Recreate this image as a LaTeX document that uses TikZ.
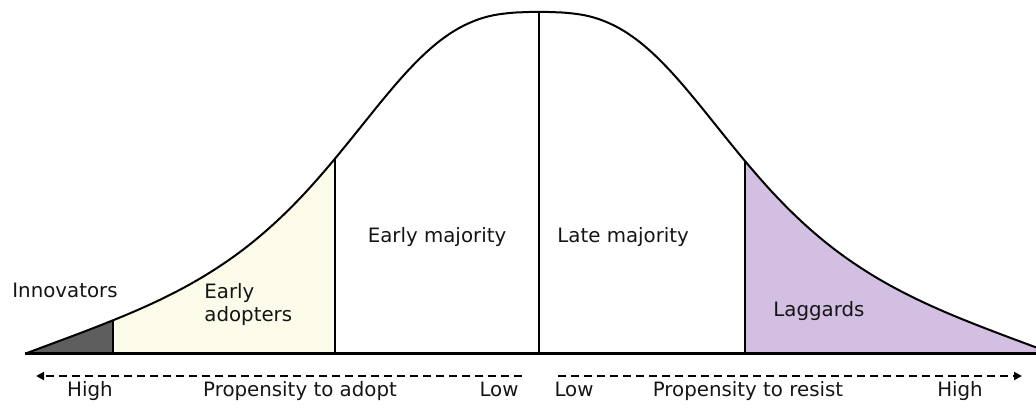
\documentclass[tikz,border=0pt]{standalone}
\usepackage{fontspec}
\setmainfont{DejaVu Sans}
\usetikzlibrary{arrows.meta}

\definecolor{innogray}{HTML}{5E5E5E}
\definecolor{adoptcream}{HTML}{FDFCEA}
\definecolor{laglilac}{HTML}{D2BFE2}
\definecolor{labelink}{HTML}{151515}

\newcommand{\bellcurve}{(27,54) plot[domain=-512:512, samples=160, smooth] ({539+\x},{54+bell(\x)})}

\tikzset{
  declare function={bell(\d)=341*(1/(1+((abs(\d)+0.01)/225.5)^2.9)-0.0849*(abs(\d)/512)^4);},
  curvelabel/.style={inner sep=0pt, text=labelink, font=\fontsize{9.9pt}{11.5pt}\selectfont},
  propline/.style={line width=1pt, dash pattern=on 4pt off 2.5pt, -{Triangle[length=4pt, width=4pt]}},
}

\begin{document}
\begin{tikzpicture}[x=0.5pt, y=0.5pt]
  \useasboundingbox (0,0) rectangle (1036,407);
  \clip (0,0) rectangle (1036,407);

  % Adopter categories
  \begin{scope}
    \clip (0,0) rectangle (113,407);
    \fill[innogray] \bellcurve -- cycle;
  \end{scope}
  \begin{scope}
    \clip (113,0) rectangle (335,407);
    \fill[adoptcream] \bellcurve -- cycle;
  \end{scope}
  \begin{scope}
    \clip (745,0) rectangle (1036,407);
    \fill[laglilac] \bellcurve -- cycle;
  \end{scope}

  % Dividers
  \begin{scope}
    \clip \bellcurve -- cycle;
    \foreach \xdiv in {113, 335, 539, 745}
      \draw[line width=0.9pt] (\xdiv,54) -- (\xdiv,407);
  \end{scope}

  % Bell curve and axis
  \draw[line width=1pt] \bellcurve;
  \coordinate (axisL) at (25,54);
  \coordinate (axisR) at (1036,54);
  \draw[line width=1.5pt] (axisL) -- (axisR);

  % Category labels
  \node[curvelabel, anchor=base west] (innov) at (12,110) {Innovators};
  \node[curvelabel, anchor=base west, align=left] (early) at (204,86) {Early\\adopters};
  \node[curvelabel, anchor=base] (earlymaj) at (437,165) {Early majority};
  \node[curvelabel, anchor=base west] (latemaj) at (557,165) {Late majority};
  \node[curvelabel, anchor=base west] (lagg) at (773,91) {Laggards};

  % Propensity arrows
  \coordinate (adoptL) at (36,31);
  \coordinate (adoptR) at (522,31);
  \coordinate (resistL) at (558,31);
  \coordinate (resistR) at (1022,31);
  \draw[propline] (adoptR) -- (adoptL);
  \draw[propline] (resistL) -- (resistR);

  \node[curvelabel, anchor=base] (adopthigh) at (90,11) {High};
  \node[curvelabel, anchor=base] (adopt) at (300,11) {Propensity to adopt};
  \node[curvelabel, anchor=base] (adoptlow) at (499,11) {Low};
  \node[curvelabel, anchor=base] (resistlow) at (574,11) {Low};
  \node[curvelabel, anchor=base] (resist) at (748,11) {Propensity to resist};
  \node[curvelabel, anchor=base] (resisthigh) at (960,11) {High};
\end{tikzpicture}
\end{document}
